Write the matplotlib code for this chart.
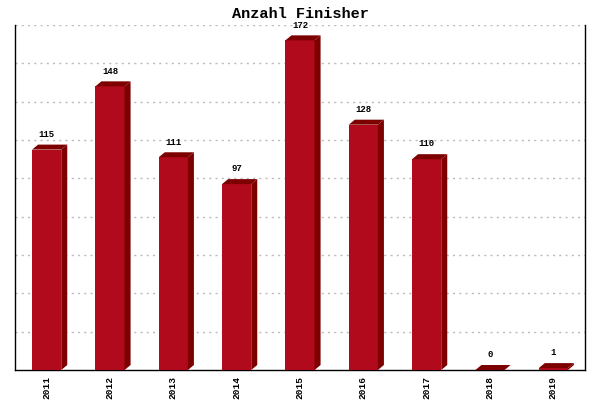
import matplotlib.pyplot as plt
from matplotlib.patches import Polygon

years = ['2011', '2012', '2013', '2014', '2015', '2016', '2017', '2018', '2019']
finisher = [115, 148, 111, 97, 172, 128, 110, 0, 1]

front_col = '#b00a1c'
dark_col = '#7d0000'
mono = ['Liberation Mono', 'DejaVu Sans Mono']

fig = plt.figure(figsize=(6, 4), dpi=100, facecolor='white')
ax = fig.add_axes([0.025, 0.075, 0.95, 0.8625])

x = list(range(len(years)))
w = 0.46
dx = 0.095   # Tiefe nach rechts (Kategorie-Einheiten)
dy = 2.6     # Tiefe nach oben (Wert-Einheiten)

ax.bar(x, finisher, width=w, color=front_col, zorder=3)
for xi, v in zip(x, finisher):
    x0 = xi - w / 2
    x1 = xi + w / 2
    # Oberseite
    top = Polygon([(x0, v), (x0 + dx, v + dy), (x1 + dx, v + dy), (x1, v)],
                  closed=True, facecolor=dark_col, edgecolor='none', zorder=3)
    ax.add_patch(top)
    # Seite
    side = Polygon([(x1, 0), (x1 + dx, dy), (x1 + dx, v + dy), (x1, v)],
                   closed=True, facecolor=dark_col, edgecolor='none', zorder=3)
    ax.add_patch(side)
    ax.text(xi, v + dy + 3, str(v), ha='center', va='bottom', fontsize=6.5,
            family=mono, fontweight='bold', zorder=4)

ax.set_xlim(-0.5, len(years) - 0.5)
ax.set_ylim(0, 180)
ax.set_yticks(range(20, 181, 20))
ax.set_yticklabels([])
ax.tick_params(axis='y', length=0)
ax.set_xticks(x)
ax.set_xticklabels(years, rotation=90, fontsize=6.8, family=mono, fontweight='bold')
ax.tick_params(axis='x', length=0, pad=4)

ax.grid(axis='y', color='#bbbbbb', linestyle=(0, (1.5, 3)), linewidth=1.0, zorder=0)
ax.set_axisbelow(True)

ax.spines['top'].set_visible(False)
for s in ['left', 'right', 'bottom']:
    ax.spines[s].set_linewidth(1.0)
    ax.spines[s].set_color('black')

fig.text(0.5, 0.966, 'Anzahl Finisher', ha='center', va='center', fontsize=11,
         fontweight='bold', family=mono)

fig.savefig('out.png', dpi=100)
